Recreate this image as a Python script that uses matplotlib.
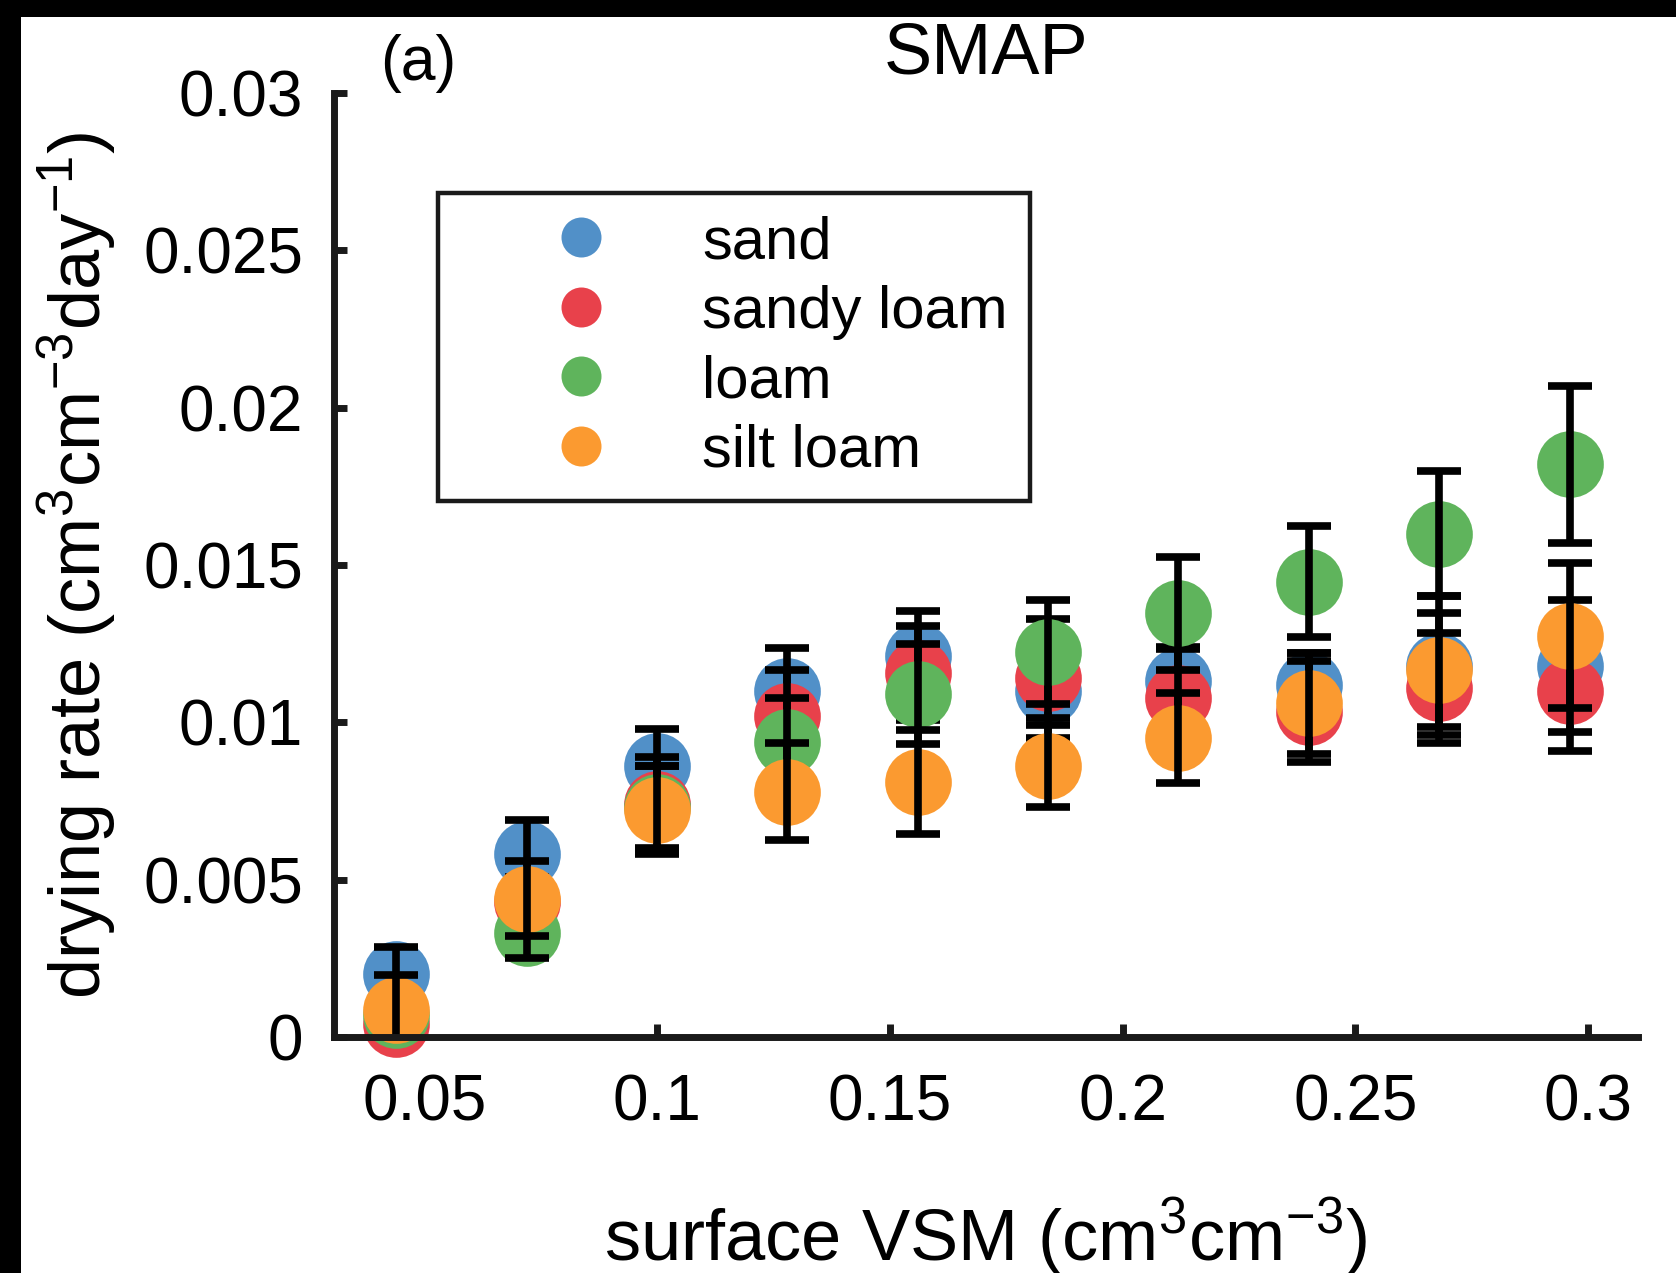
import matplotlib
matplotlib.use('Agg')
import matplotlib.pyplot as plt
from matplotlib.patches import Rectangle
from matplotlib.ticker import FixedLocator, FixedFormatter

plt.rcParams['font.family'] = ['Liberation Sans', 'DejaVu Sans']
plt.rcParams['mathtext.default'] = 'regular'

# surface soil moisture bins (cm3/cm3)
vsm = [0.044, 0.072, 0.100, 0.128, 0.156, 0.184, 0.212, 0.240, 0.268, 0.296]

# mean drying rate and spread per soil texture
sand = [0.0020, 0.0058, 0.0086, 0.0110, 0.0121, 0.0110, 0.0113, 0.0112, 0.0118, 0.0118]
sand_err = [0.00086, 0.0011, 0.0012, 0.00136, 0.00145, 0.00085, 0.0011, 0.0010, 0.0022, 0.0021]
sandy_loam = [0.0004, 0.0043, 0.0074, 0.0102, 0.01156, 0.0114, 0.01076, 0.01034, 0.0111, 0.0110]
sandy_loam_err = [0.0005, 0.0008, 0.0015, 0.00146, 0.0015, 0.0019, 0.00156, 0.0016, 0.00175, 0.0019]
loam = [0.0007, 0.0033, 0.0073, 0.00937, 0.0109, 0.01224, 0.01346, 0.01447, 0.0160, 0.0182]
loam_err = [0.0005, 0.0008, 0.0013, 0.0014, 0.0016, 0.00165, 0.0018, 0.00177, 0.0020, 0.0025]
silt_loam = [0.00086, 0.0044, 0.0072, 0.0078, 0.0081, 0.0086, 0.0095, 0.0106, 0.01166, 0.01275]
silt_loam_err = [0.0011, 0.0012, 0.0014, 0.00153, 0.00165, 0.0013, 0.00144, 0.0016, 0.0018, 0.0023]

labels = ['sand', 'sandy loam', 'loam', 'silt loam']
colors = ['#5190c8', '#e8414b', '#5fb45c', '#fb9a30']

xticks = [0.05, 0.1, 0.15, 0.2, 0.25, 0.3]
xtick_labels = ['0.05', '0.1', '0.15', '0.2', '0.25', '0.3']
yticks = [0, 0.005, 0.01, 0.015, 0.02, 0.025, 0.03]
ytick_labels = ['0', '0.005', '0.01', '0.015', '0.02', '0.025', '0.03']

series = [(sand, sand_err), (sandy_loam, sandy_loam_err),
          (loam, loam_err), (silt_loam, silt_loam_err)]

fig = plt.figure(figsize=(16.76, 12.73), dpi=100)
ax = fig.add_axes([0.199, 0.1854, 0.7783, 0.7415])

handles = []
for i, ((vals, errs), lab, col) in enumerate(zip(series, labels, colors)):
    h, = ax.plot(vsm, vals, 'o', color=col, markersize=48, markeredgewidth=0,
                 label=lab, zorder=3 + 2 * i, clip_on=False)
    ax.errorbar(vsm, vals, yerr=errs, fmt='none', ecolor='k', elinewidth=5.5,
                capsize=16, capthick=5.5, zorder=4 + 2 * i)
    handles.append(h)

ax.set_xlim(0.0305, 0.3107)
ax.set_ylim(0, 0.03)
ax.xaxis.set_major_locator(FixedLocator(xticks))
ax.xaxis.set_major_formatter(FixedFormatter(xtick_labels))
ax.yaxis.set_major_locator(FixedLocator(yticks))
ax.yaxis.set_major_formatter(FixedFormatter(ytick_labels))

for side in ['top', 'right']:
    ax.spines[side].set_visible(False)
for side in ['left', 'bottom']:
    ax.spines[side].set_linewidth(5)
    ax.spines[side].set_color('#1a1a1a')
    ax.spines[side].set_zorder(20)

ax.tick_params(axis='both', direction='in', length=9.5, width=5, color='#1a1a1a',
               labelsize=46)
ax.tick_params(axis='x', pad=26)
ax.tick_params(axis='y', pad=22)

ax.set_xlabel('surface VSM (cm$^{3}$cm$^{-3}$)', fontsize=52, labelpad=45)
ax.set_ylabel('drying rate (cm$^{3}$cm$^{-3}$day$^{-1}$)', fontsize=52, labelpad=18)
ax.set_title('SMAP', fontsize=52, pad=14)
fig.text(380 / 1676, 0.937, '(a)', fontsize=45, ha='left', va='baseline')

leg = ax.legend(handles=handles, loc='upper left', bbox_to_anchor=(0.2613, 0.8484),
                bbox_transform=fig.transFigure, borderaxespad=0, fontsize=43,
                markerscale=0.6, borderpad=0.37, handlelength=4.05, handletextpad=0.0,
                labelspacing=0.245, fancybox=False, framealpha=1, edgecolor='#1a1a1a')
leg.get_frame().set_linewidth(3.2)
leg.set_zorder(30)

# black bands on the top and left border of the scan
fig.add_artist(Rectangle((0, 1 - 17 / 1273), 1, 17 / 1273, transform=fig.transFigure,
                         facecolor='k', edgecolor='none'))
fig.add_artist(Rectangle((0, 0), 21 / 1676, 1, transform=fig.transFigure,
                         facecolor='k', edgecolor='none'))

fig.savefig('out.png', dpi=100)
